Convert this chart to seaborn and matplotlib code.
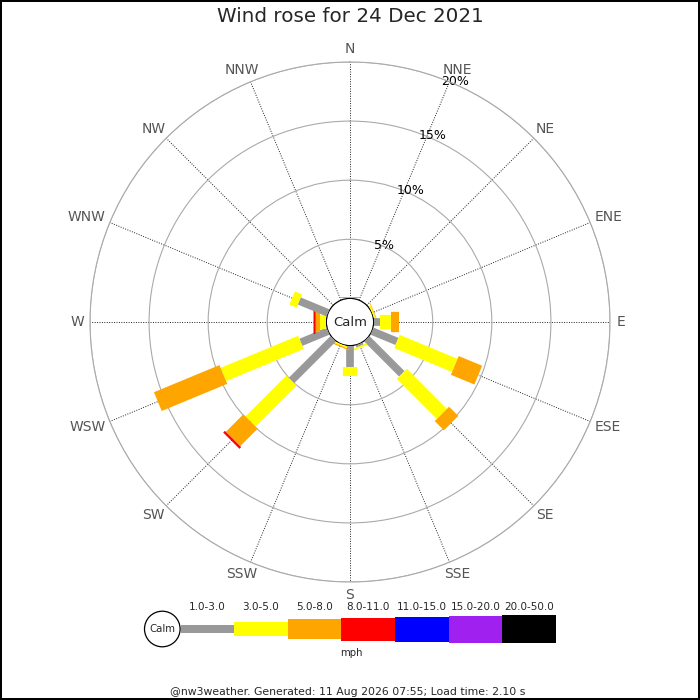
import numpy as np
import matplotlib
matplotlib.use('Agg')
import matplotlib.pyplot as plt
from matplotlib.patches import Circle
import matplotlib.transforms as mtransforms
import seaborn as sns

sns.set_style('white')
plt.rcParams['font.family'] = ['DejaVu Sans']

# wind rose for 24 Dec 2021, percent of time per direction and speed bin
directions = ['N', 'NNE', 'NE', 'ENE', 'E', 'ESE', 'SE', 'SSE',
              'S', 'SSW', 'SW', 'WSW', 'W', 'WNW', 'NW', 'NNW']
speed_bins = ['1.0-3.0', '3.0-5.0', '5.0-8.0', '8.0-11.0',
              '11.0-15.0', '15.0-20.0', '20.0-50.0']
bin_colors = ['#999999', '#ffff00', '#ffa500', '#ff0000',
              '#0000ff', '#a020f0', '#000000']
bin_widths = [7.7, 14.3, 20.3, 23.0, 25.0, 27.0, 28.3]   # px

pct_1_3 = [0, 0, 0, 0, 0.55, 2.3, 4.2, 0.2, 1.8, 0, 5.0, 2.5, 0, 2.65, 0, 0]
pct_3_5 = [0, 0, 0, 0.15, 0.95, 5.3, 4.8, 0.15, 0.75, 0.15, 4.9, 7.1, 0.5, 0.65, 0, 0]
pct_5_8 = [0.1, 0, 0, 0.05, 0.65, 2.15, 1.1, 0, 0, 0.1, 2.1, 6.0, 0.5, 0, 0, 0]
pct_8_11 = [0, 0, 0, 0, 0, 0, 0, 0, 0, 0, 0.2, 0, 0.15, 0, 0, 0]
pct_11_15 = [0] * 16
pct_15_20 = [0] * 16
pct_20_50 = [0] * 16
series = [pct_1_3, pct_3_5, pct_5_8, pct_8_11, pct_11_15, pct_15_20, pct_20_50]

ring_ticks = [5, 10, 15, 20]
title = 'Wind rose for 24 Dec 2021'
footer = '@nw3weather. Generated: 11 Aug 2026 07:55; Load time: 2.10 s'

W = H = 700
DPI = 100
px = 72.0 / DPI   # points per pixel

fig = plt.figure(figsize=(W / DPI, H / DPI), dpi=DPI)
fig.patch.set_edgecolor('black')
fig.patch.set_linewidth(1.5)

# full-figure axes in pixel units for the legend
leg = fig.add_axes([0, 0, 1, 1], zorder=0)
leg.set_xlim(0, W)
leg.set_ylim(H, 0)
leg.axis('off')

cx, cy, R = 350, 322, 260
ax = fig.add_axes([(cx - R) / W, (H - cy - R) / H, 2 * R / W, 2 * R / H],
                  projection='polar', zorder=1)
ax.set_facecolor('none')
ax.set_theta_zero_location('N')
ax.set_theta_direction(-1)
ax.set_rlim(0, 20)
ax.set_rorigin(-2.0)

theta = np.deg2rad(np.arange(16) * 22.5)
ax.set_xticks(theta)
ax.set_xticklabels(directions, color='#555555', fontsize=10)
ax.tick_params(axis='x', pad=-1)
ax.xaxis.grid(True, color='#222222', linestyle=(0, (1, 1.5)), linewidth=0.7)

ax.set_yticks(ring_ticks)
ax.set_yticklabels(['%d%%' % t for t in ring_ticks], fontsize=9, color='black')
ax.set_rlabel_position(22.5)
shift = mtransforms.ScaledTranslation(-8 / DPI, -6 / DPI, fig.dpi_scale_trans)
for lab in ax.get_yticklabels():
    lab.set_transform(lab.get_transform() + shift)
ax.yaxis.grid(True, color='#aaaaaa', linestyle='-', linewidth=0.8)
ax.spines['polar'].set_color('#aaaaaa')
ax.spines['polar'].set_linewidth(0.8)
ax.spines['inner'].set_color('black')
ax.spines['inner'].set_linewidth(0.9)

# stacked bars as thick radial strokes
for d in range(16):
    base = 0.0
    for b in range(len(series)):
        v = series[b][d]
        if v <= 0:
            continue
        ax.plot([theta[d], theta[d]], [base, base + v], color=bin_colors[b],
                linewidth=bin_widths[b] * px, solid_capstyle='butt', zorder=3)
        base += v

ax.text(0.5, 0.5, 'Calm', transform=ax.transAxes, ha='center', va='center',
        fontsize=9.5, zorder=5)

# wide compass labels sit a little further out sideways
fig.canvas.draw()
for t, lab in zip(theta, ax.get_xticklabels()):
    bb = lab.get_window_extent()
    dx = (bb.width - bb.height) / 2 * np.sin(t)
    off = mtransforms.ScaledTranslation(dx / DPI, 0, fig.dpi_scale_trans)
    lab.set_transform(lab.get_transform() + off)

fig.text(0.5, 1 - 17 / H, title, ha='center', va='center', fontsize=14.3)

# legend strip
seg_len = 53.6
x0, ly = 180.5, 629
leg.add_patch(Circle((162.3, ly), 17.8, facecolor='white', edgecolor='black', linewidth=0.9))
leg.text(162.3, ly, 'Calm', ha='center', va='center', fontsize=7.3)
lefts = [x0 + i * seg_len for i in range(len(speed_bins))]
leg.barh([ly] * len(speed_bins), [seg_len] * len(speed_bins), left=lefts,
         height=bin_widths, color=bin_colors, linewidth=0)
for i, lab in enumerate(speed_bins):
    leg.text(lefts[i] + seg_len / 2, 607, lab, ha='center', va='center', fontsize=7.5)
leg.text(351, 653, 'mph', ha='center', va='center', fontsize=7.3)
leg.text(348, 692, footer, ha='center', va='center', fontsize=7.8)

fig.savefig('out.png', dpi=DPI, edgecolor=fig.patch.get_edgecolor())
